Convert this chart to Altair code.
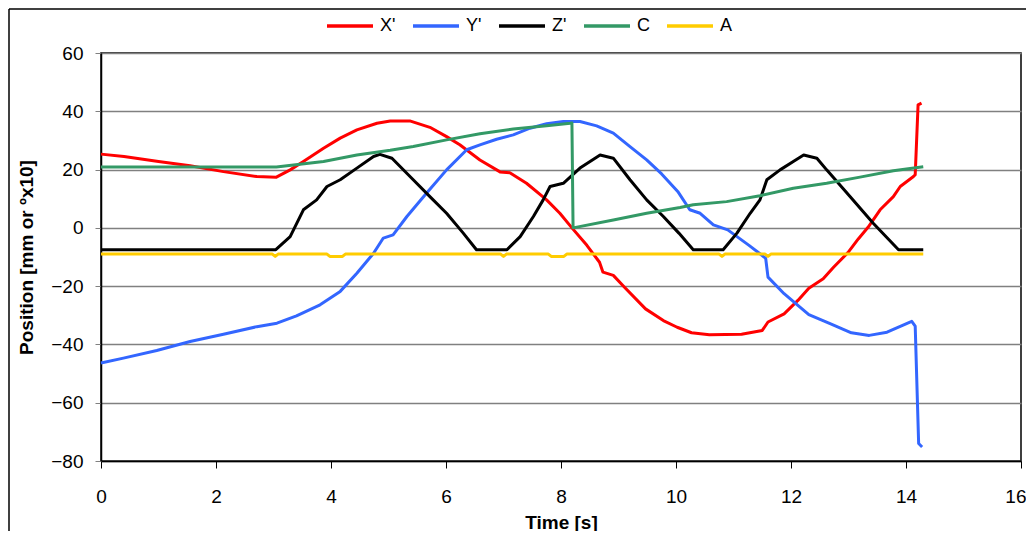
import altair as alt
import pandas as pd

series_names = ["X'", "Y'", "Z'", "C", "A"]
series_colors = ["#FF0000", "#3366FF", "#000000", "#339966", "#FFCC00"]

x_t = [0, 0.4, 1.0, 1.55, 2.13, 2.71, 3.05, 3.29, 3.52, 3.87, 4.16, 4.45, 4.8, 5.03, 5.37, 5.72,
       6.01, 6.24, 6.59, 6.94, 7.11, 7.4, 7.75, 7.98, 8.19, 8.45, 8.67, 8.73, 8.91, 9.1, 9.47, 9.78,
       10.02, 10.27, 10.58, 11.14, 11.5, 11.6, 11.88, 12.12, 12.31, 12.56, 12.74, 12.99, 13.17,
       13.34, 13.55, 13.78, 13.9, 14.13, 14.16, 14.21, 14.27]
x_v = [25.3, 24.5, 22.8, 21.3, 19.3, 17.6, 17.4, 19.9, 22.8, 27.3, 30.8, 33.6, 35.9, 36.7, 36.7, 34.5,
       31.3, 28.5, 23.3, 19.2, 18.9, 15.3, 9.6, 5.0, 0.0, -6.0, -11.8, -15.2, -16.3, -20.3, -27.8, -31.8,
       -34.1, -36.0, -36.7, -36.5, -35.2, -32.3, -29.5, -24.9, -20.7, -17.5, -13.5, -8.5, -3.8,
       0.2, 6.2, 10.7, 14.2, 17.6, 18.2, 42.2, 42.8]

y_t = [0, 0.39, 0.97, 1.55, 2.13, 2.71, 3.06, 3.4, 3.81, 4.16, 4.45, 4.74, 4.91, 5.08, 5.32, 5.66,
       6.01, 6.36, 6.59, 6.88, 7.17, 7.46, 7.75, 8.04, 8.33, 8.62, 8.91, 9.2, 9.49, 9.75, 10.03,
       10.24, 10.42, 10.65, 10.9, 11.27, 11.5, 11.56, 11.6, 11.88, 12.12, 12.31, 12.68, 13.05,
       13.36, 13.67, 13.91, 14.1, 14.16, 14.22, 14.28]
y_v = [-46.4, -44.7, -42.1, -39.0, -36.5, -33.9, -32.7, -30.2, -26.4, -21.8, -15.6, -8.7, -3.5, -2.4,
       3.9, 11.9, 19.9, 26.8, 28.5, 30.4, 31.9, 34.2, 35.7, 36.5, 36.5, 35.0, 32.5, 27.9, 23.3, 18.5,
       12.5, 6.2, 5.0, 1.0, -0.7, -6.0, -9.5, -10.5, -16.9, -22.6, -26.6, -29.8, -32.9, -36.0,
       -36.9, -35.8, -33.7, -32.1, -33.7, -74.0, -75.2]

z_t = [0, 3.04, 3.29, 3.52, 3.75, 3.93, 4.16, 4.45, 4.74, 4.85, 5.06, 5.43, 5.72, 6.01, 6.3, 6.53,
       7.06, 7.29, 7.52, 7.69, 7.81, 8.04, 8.33, 8.68, 8.91, 9.2, 9.49, 9.78, 10.05, 10.3, 10.82,
       11.06, 11.29, 11.46, 11.58, 11.81, 12.04, 12.22, 12.45, 12.62, 13.03, 13.43, 13.87, 14.3]
z_v = [-7.5, -7.5, -3.0, 6.2, 9.6, 14.2, 16.5, 20.5, 24.5, 25.2, 23.9, 16.5, 10.7, 5.0, -1.8, -7.5,
       -7.5, -3.0, 3.9, 9.6, 14.2, 15.3, 20.5, 25.0, 23.9, 16.5, 9.6, 3.9, -1.8, -7.5, -7.5,
       -1.8, 5.0, 9.6, 16.5, 19.9, 22.8, 25.0, 23.9, 19.9, 10.7, 1.6, -7.5, -7.5]

c_t = [0, 3.05, 3.87, 4.45, 5.03, 5.43, 6.01, 6.59, 7.17, 7.75, 8.16, 8.19, 8.21, 8.91, 9.49,
       10.07, 10.3, 10.88, 11.46, 12.04, 12.62, 13.2, 13.78, 14.3]
c_v = [20.9, 20.9, 22.8, 25.0, 26.6, 27.9, 30.2, 32.3, 33.9, 35.0, 35.9, 36.0, 0.0, 2.7, 5.0,
       7.0, 7.9, 9.0, 11.0, 13.6, 15.3, 17.4, 19.6, 21.0]

a_t = [0, 2.98, 3.03, 3.08, 3.93, 3.98, 4.2, 4.25, 6.95, 7.0, 7.05, 7.78, 7.83, 8.05, 8.1,
       10.75, 10.8, 10.85, 11.55, 11.6, 11.65, 14.3]
a_v = [-9.0, -9.0, -9.8, -9.0, -9.0, -9.8, -9.8, -9.0, -9.0, -9.8, -9.0, -9.0, -9.8, -9.8, -9.0,
       -9.0, -9.8, -9.0, -9.0, -9.8, -9.0, -9.0]

x_ticks = [0, 2, 4, 6, 8, 10, 12, 14, 16]
y_ticks = [-80, -60, -40, -20, 0, 20, 40, 60]

rows = []
for name, ts, vs in zip(series_names, [x_t, y_t, z_t, c_t, a_t], [x_v, y_v, z_v, c_v, a_v]):
    for i, (t, v) in enumerate(zip(ts, vs)):
        rows.append({"series": name, "t": t, "v": v, "idx": i})
df = pd.DataFrame(rows)

FONT = "Liberation Sans"

lines = alt.Chart(df).mark_line(strokeWidth=3, strokeJoin="round").encode(
    x=alt.X("t:Q", title="Time [s]",
            scale=alt.Scale(domain=[0, 16], nice=False, zero=False),
            axis=alt.Axis(values=x_ticks, grid=False, tickSize=7, tickColor="#000000",
                          domainColor="#000000", domainWidth=1.5, labelPadding=19,
                          labelFlush=False,
                          labelAlign={"condition": {"test": "datum.value == 16", "value": "right"},
                                      "value": "center"},
                          labelOffset={"condition": {"test": "datum.value == 16", "value": 5},
                                       "value": 0},
                          titlePadding=7, labelFontSize=19, titleFontSize=19,
                          titleFontWeight="bold", labelColor="#000000", titleColor="#000000")),
    y=alt.Y("v:Q", title="Position [mm or ºx10]",
            scale=alt.Scale(domain=[-80, 60], nice=False, zero=False),
            axis=alt.Axis(values=y_ticks, grid=True, gridColor="#808080", gridWidth=1.5,
                          tickSize=6, tickColor="#808080", domainColor="#000000",
                          domainWidth=1.5, labelPadding=12, titlePadding=14,
                          labelFontSize=19, titleFontSize=19, titleFontWeight="bold",
                          labelColor="#000000", titleColor="#000000")),
    color=alt.Color("series:N",
                    scale=alt.Scale(domain=series_names, range=series_colors),
                    legend=alt.Legend(title=None, orient="none", direction="horizontal",
                                      legendX=224, legendY=-52, symbolType="stroke",
                                      symbolSize=2116, symbolStrokeWidth=3.5,
                                      labelFontSize=18, labelOffset=5, columnPadding=10,
                                      padding=0, labelColor="#000000")),
    order=alt.Order("idx:Q"),
)

one = pd.DataFrame({"k": [0]})
border_left = alt.Chart(one).mark_rule(color="#000000", strokeWidth=1.5).encode(
    x=alt.value(-92), y=alt.value(-44), y2=alt.value(478)
)
border_top = alt.Chart(one).mark_rule(color="#000000", strokeWidth=1.5).encode(
    x=alt.value(-92), x2=alt.value(925), y=alt.value(-44)
)

chart = alt.layer(border_left, border_top, lines).properties(
    width=920, height=408,
    autosize=alt.AutoSizeParams(type="none"),
    padding={"left": 93, "top": 45, "right": 5, "bottom": 70},
).configure(font=FONT).configure_view(stroke="#000000", strokeWidth=1.5)

chart.save("out.html", embed_options={"renderer": "svg", "actions": False})
